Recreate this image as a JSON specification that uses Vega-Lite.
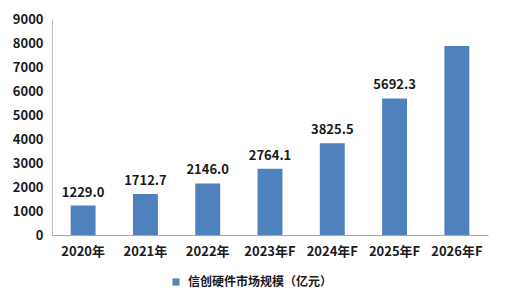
{
  "$schema": "https://vega.github.io/schema/vega-lite/v6.json",
  "width": 436,
  "height": 216,
  "autosize": {"type": "none"},
  "padding": {"left": 52, "top": 19, "right": 19, "bottom": 71},
  "background": "white",
  "config": {
    "view": {"stroke": null},
    "font": "Noto Sans CJK SC"
  },
  "data": {
    "values": [
      {"year": "2020年", "value": 1229.0, "label": "1229.0", "series": "信创硬件市场规模（亿元）"},
      {"year": "2021年", "value": 1712.7, "label": "1712.7", "series": "信创硬件市场规模（亿元）"},
      {"year": "2022年", "value": 2146.0, "label": "2146.0", "series": "信创硬件市场规模（亿元）"},
      {"year": "2023年F", "value": 2764.1, "label": "2764.1", "series": "信创硬件市场规模（亿元）"},
      {"year": "2024年F", "value": 3825.5, "label": "3825.5", "series": "信创硬件市场规模（亿元）"},
      {"year": "2025年F", "value": 5692.3, "label": "5692.3", "series": "信创硬件市场规模（亿元）"},
      {"year": "2026年F", "value": 7880, "label": "", "series": "信创硬件市场规模（亿元）"}
    ]
  },
  "encoding": {
    "x": {
      "field": "year",
      "type": "nominal",
      "sort": null,
      "scale": {"paddingInner": 0.6, "paddingOuter": 0.3},
      "axis": {
        "title": null,
        "labelAngle": 0,
        "ticks": false,
        "domainColor": "#a6a6a6",
        "labelFontSize": 13,
        "labelFontWeight": "bold",
        "labelColor": "#1a1a1a",
        "labelPadding": 10
      }
    },
    "y": {
      "field": "value",
      "type": "quantitative",
      "scale": {"domain": [0, 9000], "nice": false},
      "axis": {
        "title": null,
        "values": [0, 1000, 2000, 3000, 4000, 5000, 6000, 7000, 8000, 9000],
        "grid": false,
        "ticks": false,
        "domainColor": "#bfbfbf",
        "labelFontSize": 13,
        "labelFontWeight": "bold",
        "labelColor": "#1a1a1a",
        "labelPadding": 9,
        "format": "d"
      }
    }
  },
  "layer": [
    {
      "mark": {"type": "bar"},
      "encoding": {
        "color": {
          "field": "series",
          "type": "nominal",
          "scale": {"range": ["#4f81bd"]},
          "legend": {
            "title": null,
            "orient": "none",
            "legendX": 118,
            "legendY": 257,
            "symbolType": "square",
            "symbolSize": 50,
            "symbolStrokeWidth": 0,
            "labelFontSize": 12,
            "labelFontWeight": "bold",
            "labelColor": "#1a1a1a",
            "labelOffset": 6
          }
        }
      }
    },
    {
      "mark": {"type": "text", "baseline": "bottom", "dy": -6, "fontSize": 13, "fontWeight": "bold", "color": "#1a1a1a"},
      "encoding": {
        "text": {"field": "label"}
      }
    }
  ]
}
